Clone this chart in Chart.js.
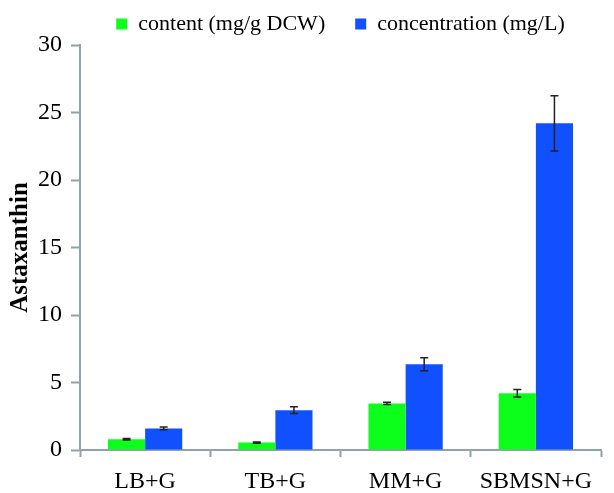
<!DOCTYPE html>
<html>
<head>
<meta charset="utf-8">
<script src="https://cdn.jsdelivr.net/npm/chart.js@4"></script>
<style>
  html, body { margin: 0; padding: 0; background: #fff; }
  #wrap { width: 614px; height: 493px; }
</style>
</head>
<body>
<div id="wrap"><canvas id="chart"></canvas></div>
<script>
const categories = ['LB+G', 'TB+G', 'MM+G', 'SBMSN+G'];
const contentValues = [0.8, 0.55, 3.45, 4.2];
const contentErrors = [0.05, 0.05, 0.08, 0.28];
const concValues = [1.6, 2.95, 6.35, 24.2];
const concErrors = [0.1, 0.25, 0.48, 2.05];

const axisColor = '#8FA3A8';
const serif = "'Liberation Serif', 'DejaVu Serif', serif";

// draw the error bars on top of each bar, using the chart's own y scale
const errorBars = {
  id: 'errorBars',
  afterDatasetsDraw(chart) {
    const ctx = chart.ctx;
    const y = chart.scales.y;
    chart.data.datasets.forEach((ds, i) => {
      const meta = chart.getDatasetMeta(i);
      meta.data.forEach((bar, j) => {
        const v = ds.data[j], e = ds.errors[j];
        const top = y.getPixelForValue(v + e);
        const bottom = y.getPixelForValue(v - e);
        ctx.save();
        ctx.strokeStyle = '#222';
        ctx.lineWidth = 1.5;
        ctx.beginPath();
        ctx.moveTo(bar.x, top); ctx.lineTo(bar.x, bottom);
        ctx.moveTo(bar.x - 4, top); ctx.lineTo(bar.x + 4, top);
        ctx.moveTo(bar.x - 4, bottom); ctx.lineTo(bar.x + 4, bottom);
        ctx.stroke();
        ctx.restore();
      });
    });
  }
};

new Chart(document.getElementById('chart'), {
  type: 'bar',
  data: {
    labels: categories,
    datasets: [
      {
        label: 'content (mg/g DCW)',
        backgroundColor: '#0BFF1B',
        data: contentValues,
        errors: contentErrors
      },
      {
        label: 'concentration (mg/L)',
        backgroundColor: '#1150FF',
        data: concValues,
        errors: concErrors
      }
    ]
  },
  options: {
    responsive: true,
    maintainAspectRatio: false,
    animation: false,
    barPercentage: 1,
    categoryPercentage: 0.57,
    layout: { padding: { top: -17, right: 13, left: 0, bottom: 0 } },
    scales: {
      x: {
        afterFit: (s) => { s.height = 43; },
        grid: {
          offset: true,
          drawOnChartArea: false,
          color: axisColor,
          tickLength: 7,
          tickWidth: 2
        },
        border: { color: axisColor, width: 2 },
        ticks: {
          color: '#000',
          padding: 10,
          font: { family: serif, size: 24 }
        }
      },
      y: {
        min: 0,
        max: 30,
        afterFit: (s) => { s.width = 80; },
        grid: {
          drawOnChartArea: false,
          color: axisColor,
          tickLength: 9,
          tickWidth: 2
        },
        border: { color: axisColor, width: 2 },
        ticks: {
          stepSize: 5,
          color: '#000',
          padding: 9,
          font: { family: serif, size: 24 }
        },
        title: {
          display: true,
          text: 'Astaxanthin',
          color: '#000',
          padding: { top: 6, bottom: 0 },
          font: { family: serif, size: 25, weight: 'bold' }
        }
      }
    },
    plugins: {
      legend: {
        position: 'top',
        fullSize: false,
        labels: {
          boxWidth: 11,
          boxHeight: 11,
          padding: 30,
          color: '#000',
          font: { family: serif, size: 22 }
        }
      },
      tooltip: { enabled: false }
    }
  },
  plugins: [errorBars]
});
</script>
</body>
</html>
